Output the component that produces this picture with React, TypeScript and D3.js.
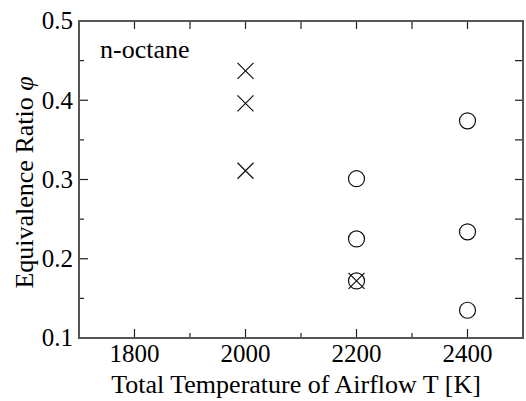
import React, { useEffect, useRef } from "react";
import * as d3 from "d3";

const W = 526;
const H = 401;
const margin = { left: 79, right: 3, top: 21, bottom: 63 };

// measured points: x = total temperature [K], y = equivalence ratio
const crossT = [2000, 2000, 2000, 2200];
const crossPhi = [0.437, 0.396, 0.311, 0.172];
const circleT = [2200, 2200, 2200, 2400, 2400, 2400];
const circlePhi = [0.301, 0.225, 0.172, 0.374, 0.234, 0.135];

const xTicks = [1800, 2000, 2200, 2400];
const xMinor = [1700, 1900, 2100, 2300, 2500];
const yTicks = [0.1, 0.2, 0.3, 0.4, 0.5];
const yMinor = [0.15, 0.25, 0.35, 0.45];

const FONT = "'Liberation Serif', 'Times New Roman', Tinos, serif";

export default function App() {
  const ref = useRef<SVGSVGElement>(null);
  const x = d3.scaleLinear().domain([1700, 2500]).range([margin.left, W - margin.right]);
  const y = d3.scaleLinear().domain([0.1, 0.5]).range([H - margin.bottom, margin.top]);
  const [x0, x1] = x.range();
  const [y0, y1] = y.range();
  const fmt = d3.format(".1f");
  const r = 8;

  useEffect(() => {
    if (!ref.current) return;
    d3.select(ref.current).selectAll("text, tspan").style("font-family", FONT, "important");
  }, []);

  return (
    <svg ref={ref} width={W} height={H} fontFamily={FONT} style={{ position: "absolute", left: 0, top: 0 }}>
      {/* bottom ticks */}
      {xTicks.map((t) => (
        <line key={"xb" + t} x1={x(t)} x2={x(t)} y1={y0} y2={y0 - 9} stroke="#222" strokeWidth={1.2} />
      ))}
      {xMinor.map((t) => (
        <line key={"xbm" + t} x1={x(t)} x2={x(t)} y1={y0} y2={y0 - 5} stroke="#222" strokeWidth={1.2} />
      ))}
      {/* top ticks */}
      {xTicks.concat(xMinor).map((t) => (
        <line key={"xt" + t} x1={x(t)} x2={x(t)} y1={y1} y2={y1 + 8} stroke="#222" strokeWidth={1.2} />
      ))}
      {/* left ticks */}
      {yTicks.map((t) => (
        <line key={"yl" + t} x1={x0} x2={x0 + 9} y1={y(t)} y2={y(t)} stroke="#222" strokeWidth={1.2} />
      ))}
      {yMinor.map((t) => (
        <line key={"ylm" + t} x1={x0} x2={x0 + 5} y1={y(t)} y2={y(t)} stroke="#222" strokeWidth={1.2} />
      ))}
      {/* right ticks */}
      {yTicks.concat(yMinor).map((t) => (
        <line key={"yr" + t} x1={x1} x2={x1 - 8} y1={y(t)} y2={y(t)} stroke="#222" strokeWidth={1.2} />
      ))}
      <rect x={x0} y={y1} width={x1 - x0} height={y0 - y1} fill="none" stroke="#555" strokeWidth={2} />

      {xTicks.map((t) => (
        <text key={"xl" + t} x={x(t)} y={y0 + 24} textAnchor="middle" fontSize={25} fontFamily={FONT}>
          {t}
        </text>
      ))}
      {yTicks.map((t) => (
        <text key={"yt" + t} x={x0 - 6} y={y(t)} dy="0.33em" textAnchor="end" fontSize={25} fontFamily={FONT}>
          {fmt(t)}
        </text>
      ))}

      <text x={296} y={393} textAnchor="middle" fontSize={26} fontFamily={FONT}>
        Total Temperature of Airflow T [K]
      </text>
      <text transform={`translate(33, ${(y0 + y1) / 2 + 3}) rotate(-90)`} textAnchor="middle" fontSize={26} fontFamily={FONT}>
        Equivalence Ratio <tspan fontStyle="italic">φ</tspan>
      </text>
      <text x={100} y={58} fontSize={26} fontFamily={FONT}>n-octane</text>

      {circleT.map((t, i) => (
        <circle key={"c" + i} cx={x(t)} cy={y(circlePhi[i])} r={r} fill="none" stroke="#111" strokeWidth={1.2} />
      ))}
      {crossT.map((t, i) => (
        <path
          key={"x" + i}
          d={`M${x(t) - r},${y(crossPhi[i]) - r}L${x(t) + r},${y(crossPhi[i]) + r}M${x(t) - r},${y(crossPhi[i]) + r}L${x(t) + r},${y(crossPhi[i]) - r}`}
          stroke="#111"
          strokeWidth={1.2}
          fill="none"
        />
      ))}
    </svg>
  );
}
